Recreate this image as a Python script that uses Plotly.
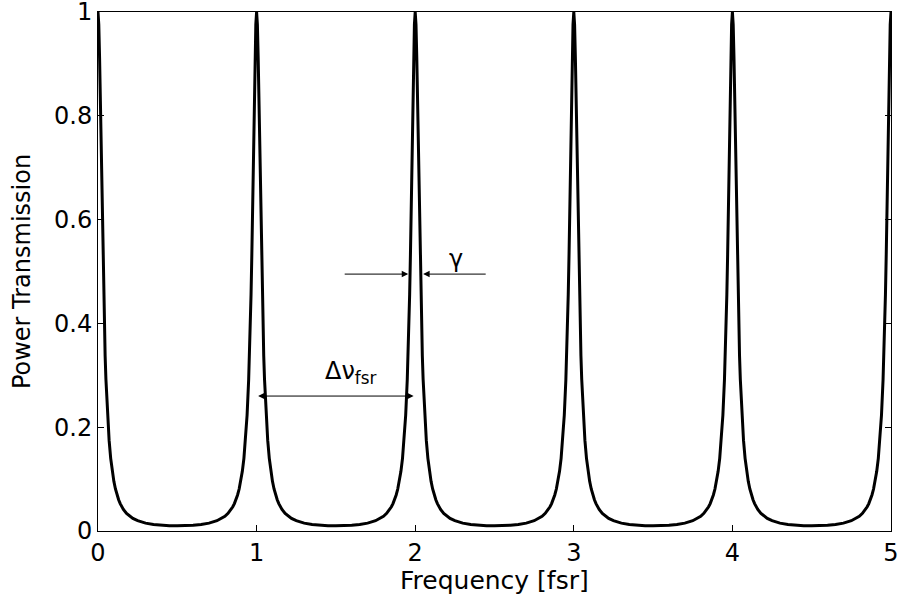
import plotly.graph_objects as go

# One half-period profile of the transmission:
# offset from a resonance peak (in fsr) and power transmission there.
offset = [0.0, 0.005, 0.01, 0.015, 0.02, 0.025, 0.03, 0.035, 0.04, 0.045,
          0.05, 0.06, 0.07, 0.08, 0.09, 0.10, 0.11, 0.12, 0.13, 0.14,
          0.15, 0.16, 0.18, 0.20, 0.22, 0.25, 0.30, 0.35, 0.40, 0.45, 0.50]
trans = [1.0, 0.976, 0.911, 0.820, 0.719, 0.621, 0.533, 0.456, 0.391, 0.337,
         0.292, 0.223, 0.175, 0.140, 0.115, 0.0957, 0.0809, 0.0694, 0.0602, 0.0528,
         0.0467, 0.0417, 0.0340, 0.0284, 0.0243, 0.0198, 0.0152, 0.0126, 0.0110, 0.0102, 0.0100]

peaks = [0, 1, 2, 3, 4, 5]

x_ticks = [0, 1, 2, 3, 4, 5]
y_ticks = [0, 0.2, 0.4, 0.6, 0.8, 1]
y_tick_text = ["0", "0.2", "0.4", "0.6", "0.8", "1"]

# Annotation values (data coordinates)
gamma_level = 0.495
gamma_left = (1.546, 1.956)
gamma_right = (2.454, 2.05)
fsr_level = 0.26
fsr_span = (1.0, 1.99)

# Build the curve by placing the read profile around each peak
xs, ys = [], []
for k in peaks[:-1]:
    for d, t in zip(offset, trans):
        xs.append(k + d)
        ys.append(t)
    for d, t in zip(reversed(offset[:-1]), reversed(trans[:-1])):
        xs.append(k + 1 - d)
        ys.append(t)

font_family = "DejaVu Sans, Liberation Sans, Arial, sans-serif"

fig = go.Figure()
fig.add_trace(go.Scatter(x=xs, y=ys, mode="lines",
                         line=dict(color="black", width=3), showlegend=False,
                         hoverinfo="skip"))

arrow_common = dict(xref="x", yref="y", axref="x", ayref="y", text="",
                    showarrow=True, arrowhead=2, arrowsize=1.3, arrowwidth=1,
                    arrowcolor="black")
fig.add_annotation(x=gamma_left[1], y=gamma_level, ax=gamma_left[0], ay=gamma_level,
                   **arrow_common)
fig.add_annotation(x=gamma_right[1], y=gamma_level, ax=gamma_right[0], ay=gamma_level,
                   **arrow_common)
fig.add_annotation(x=fsr_span[1], y=fsr_level, ax=fsr_span[0], ay=fsr_level,
                   arrowside="end+start", **arrow_common)
fig.add_annotation(x=2.26, y=0.525, xref="x", yref="y", text="γ", showarrow=False,
                   font=dict(size=24, color="black", family=font_family))
fig.add_annotation(x=1.59, y=0.305, xref="x", yref="y",
                   text="Δν<sub>fsr</sub>", showarrow=False,
                   font=dict(size=24, color="black", family=font_family))
# x-axis title
fig.add_annotation(x=0.5, y=-0.095, xref="paper", yref="paper",
                   xanchor="center", yanchor="middle", showarrow=False,
                   text="Frequency [fsr]",
                   font=dict(size=25, color="black", family=font_family))

axis_common = dict(showline=True, linecolor="black", linewidth=1, mirror="ticks",
                   ticks="inside", ticklen=6, tickcolor="black", tickwidth=1,
                   showgrid=False, zeroline=False, automargin=False,
                   ticklabeloverflow="allow",
                   tickfont=dict(size=24, color="black", family=font_family))

fig.update_layout(
    width=899, height=599,
    margin=dict(l=98, r=8, t=12, b=68),
    paper_bgcolor="white", plot_bgcolor="white",
    xaxis=dict(range=[0, 5], tickvals=x_ticks, **axis_common),
    yaxis=dict(range=[0, 1], tickvals=y_ticks, ticktext=y_tick_text,
               title=dict(text="Power Transmission", standoff=16,
                          font=dict(size=24, color="black", family=font_family)),
               **axis_common),
)

fig.write_html("out.html",
               config={"displayModeBar": False},
               post_script="document.body.style.margin='0px';"
                           "document.body.style.overflow='hidden';")
